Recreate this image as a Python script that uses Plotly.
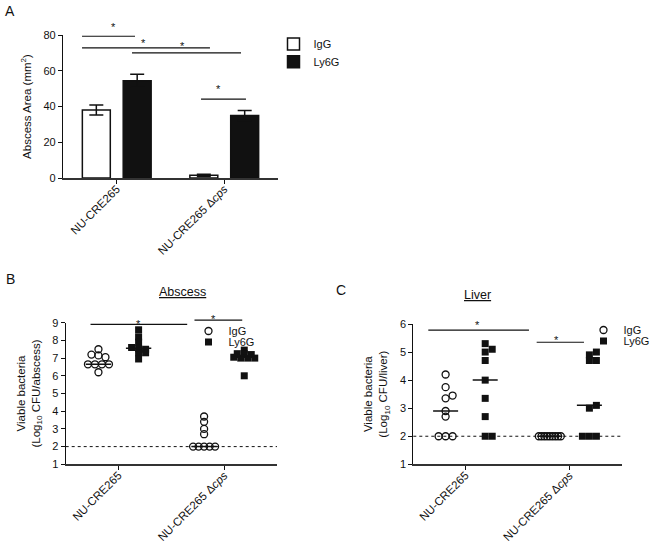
import numpy as np
import plotly.graph_objects as go

W, H = 655, 543
FONT = "Liberation Sans, Arial, Helvetica, sans-serif"
INK = "#111111"

# ---------------- data ----------------
categories = ["NU-CRE265", "NU-CRE265 Δ<i>cps</i>"]
treatments = ["IgG", "Ly6G"]

# Panel A: abscess area (mm^2), mean and SEM
area_igg_mean = [38.0, 1.5]
area_igg_sem = [2.8, 0.6]
area_ly6g_mean = [54.4, 35.0]
area_ly6g_sem = [3.7, 2.8]
area_ticks = [0, 20, 40, 60, 80]

# Panel B: viable bacteria in abscess (log10 CFU/abscess)
abscess_igg_wt = [7.5, 7.2, 7.15, 7.05, 6.65, 6.65, 6.65, 6.65, 6.2]
abscess_ly6g_wt = [8.6, 8.2, 7.9, 7.6, 7.55, 7.5, 7.3, 7.3, 6.95]
abscess_igg_cps = [3.7, 3.4, 3.0, 2.7, 2.0, 2.0, 2.0, 2.0, 2.0]
abscess_ly6g_cps = [7.45, 7.25, 7.25, 7.2, 7.05, 7.0, 7.0, 7.0, 6.0]
abscess_ticks = [1, 2, 3, 4, 5, 6, 7, 8, 9]

# Panel C: viable bacteria in liver (log10 CFU/liver)
liver_igg_wt = [4.2, 3.75, 3.45, 3.35, 2.9, 2.7, 2.0, 2.0, 2.0]
liver_ly6g_wt = [5.3, 5.1, 5.0, 4.7, 4.0, 3.35, 2.7, 2.0, 2.0]
liver_igg_cps = [2.0, 2.0, 2.0, 2.0, 2.0, 2.0, 2.0, 2.0, 2.0]
liver_ly6g_cps = [5.0, 4.9, 4.7, 4.7, 3.1, 3.0, 2.0, 2.0, 2.0]
liver_ticks = [1, 2, 3, 4, 5, 6]

detection_limit = 2.0

# ---------------- layout geometry (pixels) ----------------
XR = (-0.5, 1.5)
SHIFT = 0.19          # offset of each treatment from category centre
BAR_W = 0.26
MED_HALF = 0.12
PANELS = {
    "A": dict(ax="", xp=(63, 278), yp=(35, 178), yr=(0, 80)),
    "B": dict(ax="2", xp=(65.7, 277), yp=(322.7, 464.3), yr=(1, 9)),
    "C": dict(ax="3", xp=(413.3, 621.7), yp=(324, 464.3), yr=(1, 6)),
}


def fx(v):
    return (v - XR[0]) / (XR[1] - XR[0])


def fy(v, yr):
    return (v - yr[0]) / (yr[1] - yr[0])


def dot_offsets(values, xpx, ypx, step=7.0, bin_px=3.0, maxspan=22.0):
    """Column-scatter layout: points closer than bin_px vertically share a row."""
    v = np.asarray(values, float)
    off = np.zeros(len(v))
    bins = []
    for i in np.argsort(-v, kind="stable"):
        if bins and (v[bins[-1][0]] - v[i]) * ypx < bin_px:
            bins[-1].append(i)
        else:
            bins.append([i])
    for b in bins:
        n = len(b)
        if n == 2:
            lo, hi = sorted(b, key=lambda j: v[j])
            off[lo], off[hi] = 0.0, step
        elif n >= 3:
            sp = min(step, maxspan / (n - 1))
            for k, i in enumerate(b):
                off[i] = (k - (n - 1) / 2) * sp
    return off / xpx


fig = go.Figure()

# ---------------- Panel A: bars ----------------
fig.add_trace(go.Bar(
    x=[0, 1], y=area_igg_mean, name=treatments[0], width=BAR_W, offset=-SHIFT - BAR_W / 2,
    marker=dict(color="white", line=dict(color=INK, width=1.5)),
    error_y=dict(type="data", array=area_igg_sem, color=INK, thickness=1.5, width=7),
    xaxis="x", yaxis="y", legend="legend"))
fig.add_trace(go.Bar(
    x=[0, 1], y=area_ly6g_mean, name=treatments[1], width=BAR_W, offset=SHIFT - BAR_W / 2,
    marker=dict(color=INK, line=dict(color=INK, width=1.5)),
    error_y=dict(type="data", array=area_ly6g_sem, color=INK, thickness=1.5, width=7),
    xaxis="x", yaxis="y", legend="legend2"))

# ---------------- Panels B & C: dot plots ----------------
dot_sets = {
    "B": [(abscess_igg_wt, abscess_igg_cps), (abscess_ly6g_wt, abscess_ly6g_cps)],
    "C": [(liver_igg_wt, liver_igg_cps), (liver_ly6g_wt, liver_ly6g_cps)],
}
legend_ids = {"B": ("legend3", "legend4"), "C": ("legend5", "legend6")}
for key, sets in dot_sets.items():
    p = PANELS[key]
    xpx = (p["xp"][1] - p["xp"][0]) / (XR[1] - XR[0])
    ypx = (p["yp"][1] - p["yp"][0]) / (p["yr"][1] - p["yr"][0])
    xa, ya = "x" + p["ax"], "y" + p["ax"]
    for t, (series, sign) in enumerate(zip(sets, (-1, 1))):
        xs, ys = [], []
        for ci, vals in enumerate(series):
            offs = dot_offsets(vals, xpx, ypx)
            xs += list(ci + sign * SHIFT + offs)
            ys += list(vals)
        if t == 0:
            marker = dict(symbol="circle-open", size=7, color=INK, line=dict(width=1.3, color=INK))
        else:
            marker = dict(symbol="square", size=7, color=INK, line=dict(width=0))
        fig.add_trace(go.Scatter(x=xs, y=ys, mode="markers", name=treatments[t], marker=marker,
                                 xaxis=xa, yaxis=ya, legend=legend_ids[key][t], cliponaxis=False))
        for ci, vals in enumerate(series):
            m = float(np.median(vals))
            c = ci + sign * SHIFT
            fig.add_trace(go.Scatter(x=[c - MED_HALF, c + MED_HALF], y=[m, m], mode="lines",
                                     line=dict(color=INK, width=1.5), showlegend=False,
                                     hoverinfo="skip", xaxis=xa, yaxis=ya))

# ---------------- axes ----------------
layout = dict(
    width=W, height=H, margin=dict(l=0, r=0, t=0, b=0, autoexpand=False),
    paper_bgcolor="white", plot_bgcolor="white",
    font=dict(family=FONT, size=11, color=INK),
    barmode="overlay", showlegend=True,
)
tick_sets = {"A": area_ticks, "B": abscess_ticks, "C": liver_ticks}
ytitles = {
    "A": "Abscess Area (mm<sup>2</sup>)",
    "B": "Viable bacteria<br>(Log<sub>10</sub> CFU/abscess)",
    "C": "Viable bacteria<br>(Log<sub>10</sub> CFU/liver)",
}
for key, p in PANELS.items():
    sx = "xaxis" + p["ax"]
    sy = "yaxis" + p["ax"]
    layout[sx] = dict(
        domain=[p["xp"][0] / W, p["xp"][1] / W], range=list(XR), anchor="y" + p["ax"],
        tickmode="array", tickvals=[0, 1], ticktext=categories, tickangle=-45,
        ticks="outside", ticklen=4, tickwidth=1.2, tickcolor=INK, automargin=False,
        ticklabelstandoff=-6,
        showline=True, linecolor="#333333", linewidth=1.8,
        showgrid=False, zeroline=False, tickfont=dict(size=11.5, color=INK))
    layout[sy] = dict(
        domain=[1 - p["yp"][1] / H, 1 - p["yp"][0] / H], range=list(p["yr"]), anchor="x" + p["ax"],
        tickmode="array", tickvals=tick_sets[key], automargin=False,
        ticks="outside", ticklen=4, tickwidth=1.2, tickcolor=INK,
        showline=True, linecolor=INK, linewidth=1.2,
        showgrid=False, zeroline=False, tickfont=dict(size=11, color=INK),
        title=dict(text=ytitles[key], font=dict(size=11.5, color=INK), standoff=9))


# ---------------- legends ----------------
def legend_at(text_x, cy):
    return dict(x=(text_x - 41.5) / W, y=1 - cy / H, xanchor="left", yanchor="middle",
                bgcolor="rgba(0,0,0,0)", borderwidth=0,
                font=dict(size=11, family=FONT, color=INK))


layout["legend"] = legend_at(315, 44)
layout["legend2"] = legend_at(315, 61.7)
layout["legend3"] = legend_at(230, 331)
layout["legend4"] = legend_at(230, 342)
layout["legend5"] = legend_at(625, 330)
layout["legend6"] = legend_at(625, 341)

# ---------------- significance bars & annotations ----------------
sig = {
    "A": [(-0.323, 0.170, 79.3, -0.072, 86.6), (-0.323, 0.867, 72.8, 0.253, 77.7),
          (0.142, 1.156, 70.0, 0.607, 76.0), (0.784, 1.202, 44.1, 0.988, 47.5)],
    "B": [(-0.265, 0.650, 8.91, 0.145, 9.15), (0.719, 1.171, 9.15, 0.940, 9.43)],
    "C": [(-0.356, 0.610, 5.78, 0.076, 6.12), (0.684, 1.138, 5.35, 0.914, 5.57)],
}
shapes, annotations = [], []
for key, bars in sig.items():
    p = PANELS[key]
    xr_, yr_ = "x" + p["ax"] + " domain", "y" + p["ax"] + " domain"
    for x0, x1, y, sx_, sy_ in bars:
        shapes.append(dict(type="line", xref=xr_, yref=yr_, x0=fx(x0), x1=fx(x1),
                           y0=fy(y, p["yr"]), y1=fy(y, p["yr"]), line=dict(color=INK, width=1.2)))
        annotations.append(dict(text="*", xref=xr_, yref=yr_, x=fx(sx_), y=fy(sy_, p["yr"]),
                                yshift=4, showarrow=False, font=dict(size=11, color=INK)))
for key in ("B", "C"):
    p = PANELS[key]
    shapes.append(dict(type="line", xref="x" + p["ax"] + " domain", yref="y" + p["ax"],
                       x0=0, x1=1, y0=detection_limit, y1=detection_limit, layer="below",
                       line=dict(color=INK, width=1, dash="dot")))

# panel letters and titles
for txt, px, py in (("A", 3, 1), ("B", 4, 269), ("C", 334, 280)):
    annotations.append(dict(text=txt, xref="paper", yref="paper", x=px / W, y=1 - py / H,
                            xanchor="left", yanchor="top",
                            showarrow=False, font=dict(size=14, color=INK)))
annotations.append(dict(text="<u>Abscess</u>", xref="paper", yref="paper", x=157 / W, y=1 - 292 / H,
                        showarrow=False, font=dict(size=12.5, color=INK)))
annotations.append(dict(text="<u>Liver</u>", xref="paper", yref="paper", x=493 / W, y=1 - 295 / H,
                        showarrow=False, font=dict(size=12.5, color=INK)))

layout["shapes"] = shapes
layout["annotations"] = annotations
fig.update_layout(**layout)
fig.write_html("out.html", config={"displayModeBar": False},
               post_script="document.body.style.margin='0';")
